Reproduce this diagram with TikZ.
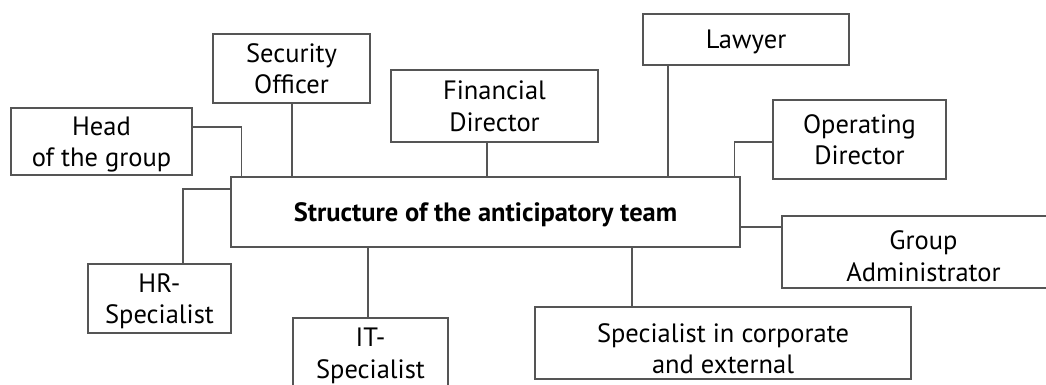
\documentclass[tikz,border=0pt]{standalone}
\usepackage{fontspec}
\setmainfont{PT Sans}
\definecolor{edge}{HTML}{555555}
\begin{document}
\begin{tikzpicture}[x=1pt,y=-1pt,
  box/.style={draw=edge, line width=1.3pt, rectangle, inner sep=0pt, align=center,
    font=\fontsize{26.5}{31.5}\selectfont, text=black, text depth=0pt},
  link/.style={draw=edge, line width=1.3pt}]
\useasboundingbox (0,0) rectangle (1046,385);
% boxes: center, width, height
\node[box, minimum width=181pt, minimum height=67pt] (head) at (101.5,141.5) {Head\\of the group};
\node[box, minimum width=157pt, minimum height=69pt] (sec) at (291.5,68.5) {Security\\Officer};
\node[box, minimum width=207pt, minimum height=72pt] (fin) at (494.5,106) {Financial\\Director};
\node[box, minimum width=206pt, minimum height=51pt] (law) at (746,39.5) {Lawyer};
\node[box, minimum width=173pt, minimum height=79pt] (op) at (859.5,139.5) {Operating\\Director};
\node[box, minimum width=509pt, minimum height=70pt] (main) at (485.5,212) {\bfseries Structure of the anticipatory team};
\node[box, minimum width=283pt, minimum height=72pt] (ga) at (923.5,252) {\rule{0pt}{26.5pt}Group\\Administrator};
\node[box, minimum width=143pt, minimum height=69pt] (hr) at (159.5,298.5) {HR-\\Specialist};
\node[box, minimum width=155pt, minimum height=70pt] (it) at (370.5,353) {IT-\\Specialist};
\node[box, minimum width=376pt, minimum height=72pt] (spec) at (723,343) {\rule{0pt}{29.5pt}Specialist in corporate\\and external};
% connectors
\draw[link] ([yshift=14.5pt]head.east) -| ([xshift=11pt]main.north west);
\draw[link] ([xshift=0.5pt]sec.south) -- ([xshift=0.5pt]sec.south |- main.north);
\draw[link] ([xshift=-7.5pt]fin.south) -- ([xshift=-7.5pt]fin.south |- main.north);
\draw[link] ([xshift=-78pt]law.south) -- ([xshift=-78pt]law.south |- main.north);
\draw[link] ([yshift=-2.5pt]op.west) -| ([xshift=-6pt]main.north east);
\draw[link] ([yshift=-15pt]main.east) -- ([yshift=-15pt]main.east -| ga.west);
\draw[link] ([xshift=-91pt]spec.north) -- ([xshift=-91pt]spec.north |- main.south);
\draw[link] ([xshift=-2.5pt]it.north) -- ([xshift=-2.5pt]it.north |- main.south);
\draw[link] ([yshift=23pt]main.west) -| ([xshift=23.5pt]hr.north);
\end{tikzpicture}
\end{document}
